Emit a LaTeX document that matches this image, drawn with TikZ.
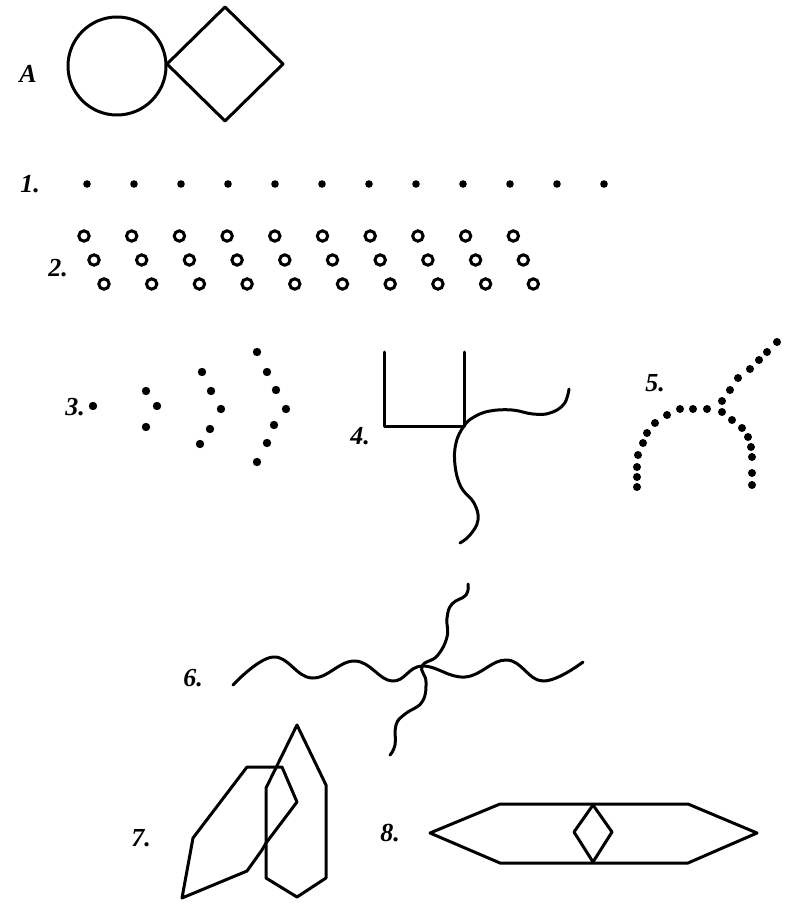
\documentclass[tikz,border=0pt]{standalone}
\usepackage{fontspec}
\setmainfont{Liberation Serif}
\begin{document}
\begin{tikzpicture}[x=1pt,y=-1pt,
  ln/.style={line width=3pt,line join=round,line cap=round},
  lbl/.style={font=\fontsize{26}{28}\selectfont\bfseries\itshape,inner sep=0pt},
  dotm/.style={fill=black,draw=none},
  ring/.style={draw=black,line width=3pt,fill=none}]
\useasboundingbox (0,0) rectangle (790,909);
% A
\node[lbl] (la) at (28,74) {A};
\node[ln,draw,circle,minimum size=98pt,inner sep=0pt] (circ) at (117,66) {};
\draw[ln] (167,64) coordinate (dl) -- (225,7) coordinate (dt) -- (283,64) coordinate (dr) -- (225,121) coordinate (db) -- cycle;
% 1
\node[lbl] (l1) at (30,184) {1.};
\foreach \i in {0,...,11} \fill[dotm] ({87+47*\i},184) circle (3.8pt);
% 2
\node[lbl] (l2) at (58,268) {2.};
\foreach \r in {0,1,2}
  \foreach \i in {0,...,9}
    \draw[ring] ({84+10*\r+47.7*\i},{236+24*\r}) circle (5.2pt);
% 3
\node[lbl] (l3) at (75,407) {3.};
\foreach \p in {(93,406),(146,391),(157,406),(146,427),
  (202,372),(211,391),(221,409),(210,429),(200,444),
  (257,352),(267,372),(276,390),(286,409),(274,425),(267,443),(257,462)}
  \fill[dotm] \p circle (4.2pt);
% 4
\node[lbl] (l4) at (360,436) {4.};
\draw[ln] (384,352) -- (384,426) -- (464,426) coordinate (c4) -- (464,352);
\draw[ln] plot[smooth,tension=0.7] coordinates {(569,389) (564,404) (550,413) (533,414) (512,410) (490,411) (474,417) (464,426) (456,443) (455,465) (461,487) (474,503) (478,520) (470,535) (460,543)};
% 5
\node[lbl] (l5) at (655,383) {5.};
\foreach \p in {(777,342),(767,352),(759,360),(750,369),(738,378),(730,390),(722,401),
  (637,487),(637,477),(637,467),(638,455),(643,443),(647,433),(655,423),(667,415),(680,409),(693,409),(707,409),(722,412),(732,420),(742,428),(748,437),(751,447),(752,457),(752,473),(752,485)}
  \fill[dotm] \p circle (4pt);
% 6
\node[lbl] (l6) at (193,678) {6.};
\draw[ln] plot[smooth,tension=0.7] coordinates {(233,685) (273,657) (312,678) (355,661) (392,681) (422,666) (465,677) (507,660) (543,681) (583,662)};
\draw[ln] plot[smooth,tension=0.75] coordinates {(468,584) (466,595) (452,604) (447,618) (447,637) (437,656) (422,666) (426,682) (422,702) (405,714) (396,725) (395,745) (390,755)};
% 7
\node[lbl] (l7) at (141,838) {7.};
\draw[ln] (182,898) -- (193,838) -- (247,767) -- (282,767) -- (297,802) -- (266,843) -- (262,850) -- (247,871) -- cycle;
\draw[ln] (297,725) -- (326,785) -- (326,878) -- (297,897) -- (266,878) -- (266,788) -- cycle;
% 8
\node[lbl] (l8) at (390,833) {8.};
\draw[ln] (430,833) -- (500,804) -- (688,804) -- (757,833) -- (688,863) -- (500,863) -- cycle;
\draw[ln] (593,805) -- (612,832) -- (593,862) -- (574,832) -- cycle;
\end{tikzpicture}
\end{document}
